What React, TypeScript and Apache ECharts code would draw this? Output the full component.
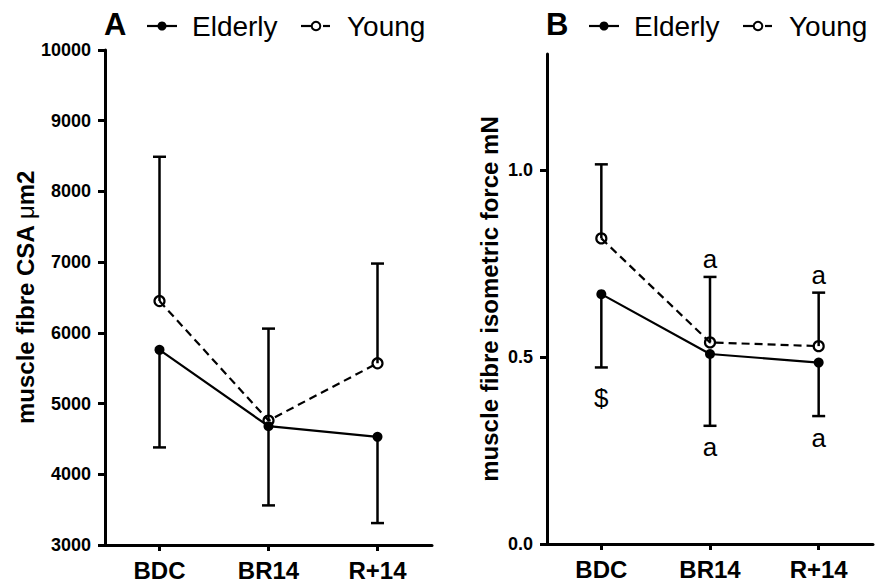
import React, { useEffect, useRef } from "react";
import * as echarts from "echarts";

const categories = ["BDC", "BR14", "R+14"];

// Panel A: muscle fibre CSA (µm2)
const csaElderly = [5760, 4680, 4530];
const csaElderlyLow = [4380, 3560, 3310];
const csaYoung = [6450, 4760, 5570];
const csaYoungHigh = [8490, 6060, 6980];
const csaTicks = [3000, 4000, 5000, 6000, 7000, 8000, 9000, 10000];

// Panel B: muscle fibre isometric force (mN)
const forceElderly = [0.668, 0.508, 0.485];
const forceElderlyLow = [0.472, 0.316, 0.342];
const forceYoung = [0.817, 0.539, 0.529];
const forceYoungHigh = [1.015, 0.714, 0.672];
const forceTicks = [0, 0.5, 1.0];

// Panel B significance marks
const marksText = ["$", "a", "a", "a", "a"];
const marksCat = ["BDC", "BR14", "R+14", "BR14", "R+14"];
const marksGroup = ["Elderly", "Elderly", "Elderly", "Young", "Young"];

const FONT = "'Liberation Sans', Arial, Helvetica, sans-serif";

function errorSeries(xAxisIndex: number, means: number[], ends: number[], z = 3) {
  return {
    type: "custom",
    xAxisIndex,
    yAxisIndex: xAxisIndex,
    z,
    silent: true,
    data: means.map((m, i) => [i, m, ends[i]]),
    renderItem: (params: any, api: any) => {
      const x = api.value(0);
      const p1 = api.coord([x, api.value(1)]);
      const p2 = api.coord([x, api.value(2)]);
      const cap = 6.5;
      const style = { stroke: "#000", lineWidth: 2.5 };
      return {
        type: "group",
        children: [
          { type: "line", shape: { x1: p1[0], y1: p1[1], x2: p2[0], y2: p2[1] }, style },
          { type: "line", shape: { x1: p2[0] - cap, y1: p2[1], x2: p2[0] + cap, y2: p2[1] }, style },
        ],
      };
    },
  };
}

function lineSeries(idx: number, name: string, data: number[], young: boolean) {
  return {
    type: "line",
    name,
    xAxisIndex: idx,
    yAxisIndex: idx,
    data,
    z: 4,
    symbol: "circle",
    symbolSize: 10,
    lineStyle: { color: "#000", width: 2.2, type: young ? [8, 5] : "solid" },
    itemStyle: young
      ? { color: "rgba(255,255,255,0)", borderColor: "#000", borderWidth: 2.2 }
      : { color: "#000", borderWidth: 0 },
  };
}

function legend(x0: number, letter: string) {
  const y = 26;
  const txt = (text: string, x: number, size: number, bold: boolean) => ({
    type: "text",
    x,
    y,
    style: {
      text,
      fill: "#000",
      font: `${bold ? "bold " : ""}${size}px ${FONT}`,
      verticalAlign: "middle",
      align: "left",
    },
  });
  return [
    { ...txt(letter, x0, 31, true), y: 24 },
    { type: "line", shape: { x1: x0 + 43, y1: y, x2: x0 + 73, y2: y }, style: { stroke: "#000", lineWidth: 2.2 } },
    { type: "circle", shape: { cx: x0 + 58, cy: y, r: 4.5 }, style: { fill: "#000" } },
    txt("Elderly", x0 + 88, 28, false),
    { type: "line", shape: { x1: x0 + 197, y1: y, x2: x0 + 207, y2: y }, style: { stroke: "#000", lineWidth: 2.2 } },
    { type: "line", shape: { x1: x0 + 219, y1: y, x2: x0 + 226, y2: y }, style: { stroke: "#000", lineWidth: 2.2 } },
    { type: "circle", shape: { cx: x0 + 212, cy: y, r: 4.3 }, style: { fill: "none", stroke: "#000", lineWidth: 2 } },
    txt("Young", x0 + 243, 28, false),
  ];
}

export default function App() {
  const ref = useRef<HTMLDivElement>(null);
  useEffect(() => {
    if (!ref.current) return;
    const chart = echarts.init(ref.current, undefined, { renderer: "svg" });

    const axisLine = { show: true, lineStyle: { color: "#000", width: 3 } };
    const xAxisCommon = {
      type: "category",
      data: categories,
      boundaryGap: true,
      axisLine,
      axisTick: { show: true, alignWithLabel: true, length: 6, lineStyle: { color: "#000", width: 3 } },
      axisLabel: { color: "#000", fontSize: 24, fontWeight: "bold", fontFamily: FONT, margin: 13 },
      splitLine: { show: false },
    };
    const nameStyle = {
      color: "#000",
      fontSize: 24,
      fontWeight: "bold",
      fontFamily: FONT,
      rich: { mu: { fontSize: 24, fontWeight: "normal", fontFamily: FONT, color: "#000" } },
    };

    const markData = marksText.map((t, i) => {
      const ci = categories.indexOf(marksCat[i]);
      const elderly = marksGroup[i] === "Elderly";
      const v = elderly ? forceElderlyLow[ci] : forceYoungHigh[ci];
      return {
        value: [ci, v],
        label: {
          formatter: t,
          position: elderly ? "bottom" : "top",
          distance: t === "$" ? 17 : elderly ? 8 : 4,
        },
      };
    });

    chart.setOption({
      animation: false,
      backgroundColor: "#fff",
      grid: [
        { left: 105, right: 452, top: 50, bottom: 43 },
        { left: 547, right: 11, top: 54, bottom: 44 },
      ],
      xAxis: [
        { ...xAxisCommon, gridIndex: 0 },
        { ...xAxisCommon, gridIndex: 1 },
      ],
      yAxis: [
        {
          type: "value",
          gridIndex: 0,
          min: csaTicks[0],
          max: csaTicks[csaTicks.length - 1],
          interval: 1000,
          axisLine,
          axisTick: { show: true, length: 7, lineStyle: { color: "#000", width: 3 } },
          axisLabel: {
            color: "#000",
            fontSize: 18,
            fontWeight: "bold",
            fontFamily: FONT,
            margin: 14,
            formatter: (v: number) => String(v),
          },
          splitLine: { show: false },
          name: "muscle fibre CSA {mu|μ}m2",
          nameLocation: "middle",
          nameGap: 64,
          nameTextStyle: nameStyle,
        },
        {
          type: "value",
          gridIndex: 1,
          min: 0,
          max: 1.31,
          axisLine,
          axisTick: { show: true, length: 7, customValues: forceTicks, lineStyle: { color: "#000", width: 3 } },
          axisLabel: {
            color: "#000",
            fontSize: 18,
            fontWeight: "bold",
            fontFamily: FONT,
            margin: 14,
            customValues: forceTicks,
            formatter: (v: number) => v.toFixed(1),
          },
          splitLine: { show: false },
          name: "muscle fibre isometric force mN",
          nameLocation: "middle",
          nameGap: 46,
          nameTextStyle: nameStyle,
        },
      ],
      graphic: [...legend(104, "A"), ...legend(546, "B")],
      series: [
        errorSeries(0, csaElderly, csaElderlyLow),
        errorSeries(0, csaYoung, csaYoungHigh),
        lineSeries(0, "Elderly", csaElderly, false),
        lineSeries(0, "Young", csaYoung, true),
        errorSeries(1, forceElderly, forceElderlyLow),
        errorSeries(1, forceYoung, forceYoungHigh),
        lineSeries(1, "Elderly", forceElderly, false),
        lineSeries(1, "Young", forceYoung, true),
        {
          type: "scatter",
          xAxisIndex: 1,
          yAxisIndex: 1,
          symbolSize: 1,
          silent: true,
          itemStyle: { color: "rgba(0,0,0,0)", opacity: 1 },
          label: { show: true, color: "#000", opacity: 1, fontSize: 26, fontFamily: FONT },
          data: markData,
        },
      ],
    });
    return () => chart.dispose();
  }, []);
  return <div ref={ref} style={{ width: 884, height: 588, position: "absolute", left: 0, top: 0 }} />;
}
